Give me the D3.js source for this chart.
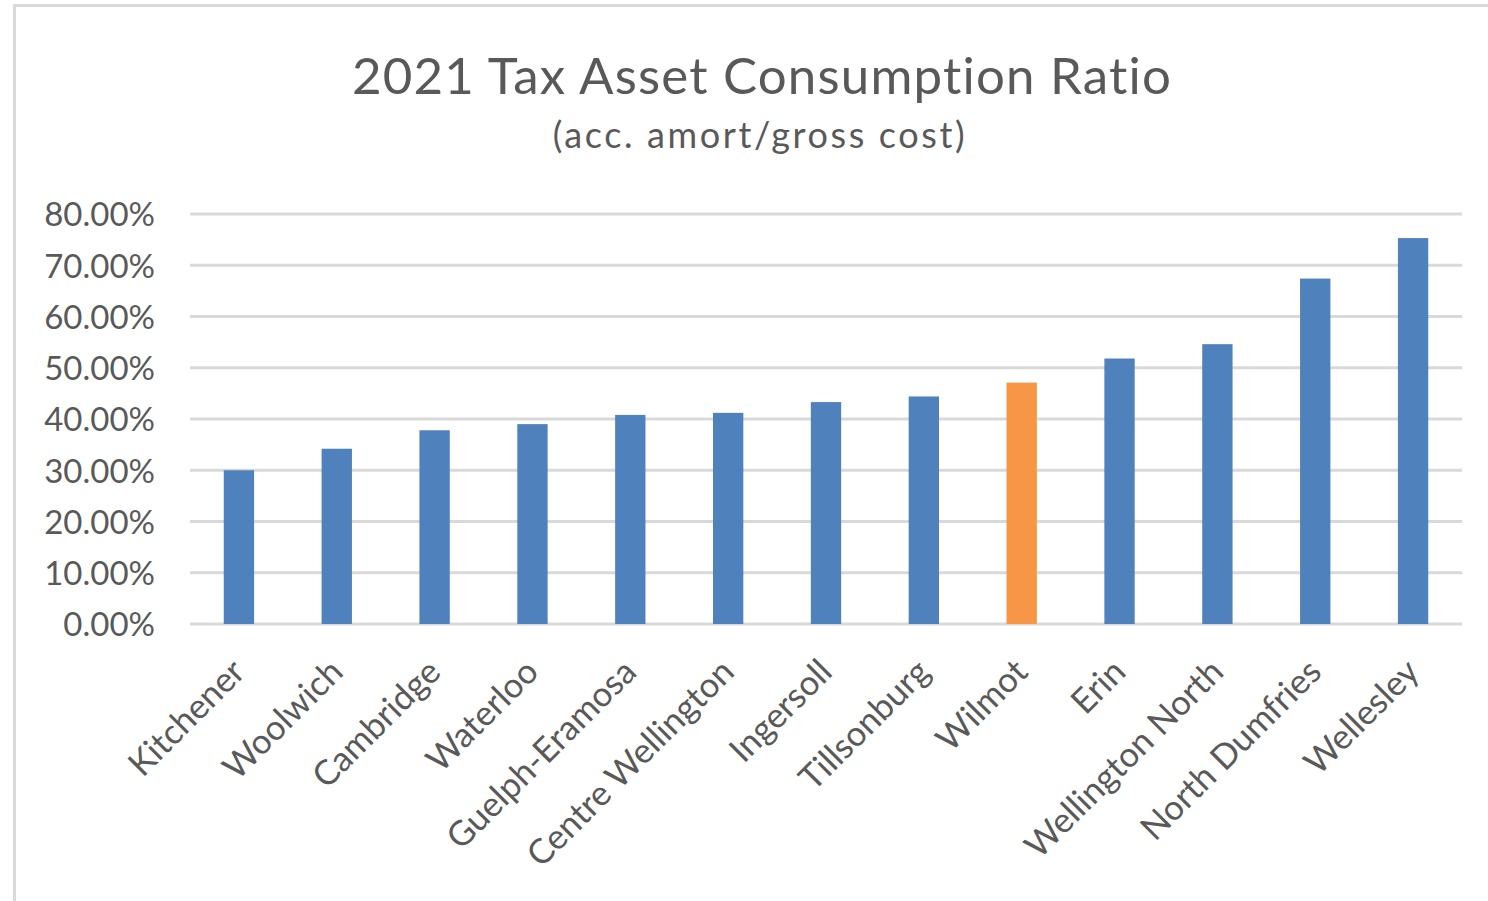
<!DOCTYPE html>
<html>
<head>
<meta charset="utf-8">
<script src="https://cdn.jsdelivr.net/npm/d3@7"></script>
<style>
  html, body { margin: 0; padding: 0; background: #ffffff; }
  svg { display: block; }
  text { font-family: Lato, "Open Sans", sans-serif; fill: #595959; }
</style>
</head>
<body>
<svg id="chart" width="1488" height="901"></svg>
<script>
const categories = ["Kitchener", "Woolwich", "Cambridge", "Waterloo", "Guelph-Eramosa", "Centre Wellington", "Ingersoll", "Tillsonburg", "Wilmot", "Erin", "Wellington North", "North Dumfries", "Wellesley"];
const values = [0.300, 0.342, 0.378, 0.390, 0.408, 0.412, 0.433, 0.444, 0.471, 0.518, 0.546, 0.674, 0.753];
const highlight = ["Wilmot"];
const yTicks = [0, 0.1, 0.2, 0.3, 0.4, 0.5, 0.6, 0.7, 0.8];
const titleText = "2021 Tax Asset Consumption Ratio";
const subtitleText = "(acc. amort/gross cost)";

const svg = d3.select("#chart");
const margin = { left: 190, right: 26, top: 214, bottom: 277 };
const W = 1488, H = 901;

// chart border
svg.append("rect")
  .attr("x", 14.5).attr("y", 5.5)
  .attr("width", W + 20).attr("height", H + 20)
  .attr("fill", "#ffffff").attr("stroke", "#d9d9d9").attr("stroke-width", 3);

const x = d3.scaleBand().domain(categories)
  .range([margin.left, W - margin.right])
  .paddingInner(0.69).paddingOuter(0.345);
const y = d3.scaleLinear().domain([0, 0.8]).range([H - margin.bottom, margin.top]);

// gridlines
svg.append("g").selectAll("line").data(yTicks).join("line")
  .attr("x1", margin.left).attr("x2", W - margin.right)
  .attr("y1", d => y(d)).attr("y2", d => y(d))
  .attr("stroke", "#d9d9d9").attr("stroke-width", 3);

// y axis labels
const yAxis = d3.axisLeft(y).tickValues(yTicks).tickFormat(d3.format(".2%")).tickSize(0).tickPadding(0);
const yg = svg.append("g").attr("transform", `translate(155,0)`).call(yAxis);
yg.select(".domain").remove();
yg.selectAll("text").attr("font-size", 33).attr("fill", "#595959")
  .attr("font-family", "Lato, 'Open Sans', sans-serif").attr("dy", "0.36em");

// bars
svg.append("g").selectAll("rect").data(categories).join("rect")
  .attr("x", d => x(d)).attr("width", x.bandwidth())
  .attr("y", (d, i) => y(values[i]))
  .attr("height", (d, i) => y(0) - y(values[i]))
  .attr("fill", d => highlight.includes(d) ? "#f79646" : "#4f81bd");

// x axis labels
const xAxis = d3.axisBottom(x).tickSize(0).tickPadding(0);
const xg = svg.append("g").attr("transform", `translate(0,${y(0)})`).call(xAxis);
xg.select(".domain").remove();
xg.selectAll("text")
  .attr("font-size", 34.5).attr("fill", "#595959")
  .attr("font-family", "Lato, 'Open Sans', sans-serif")
  .attr("text-anchor", "end")
  .attr("dy", null).attr("y", null)
  .attr("transform", "translate(8,50) rotate(-45)");

// title
svg.append("text").attr("x", 762).attr("y", 94)
  .attr("text-anchor", "middle").attr("font-size", 51)
  .attr("letter-spacing", 1.2).text(titleText);
svg.append("text").attr("x", 760).attr("y", 148)
  .attr("text-anchor", "middle").attr("font-size", 36)
  .attr("letter-spacing", 2.6).text(subtitleText);
</script>
</body>
</html>
